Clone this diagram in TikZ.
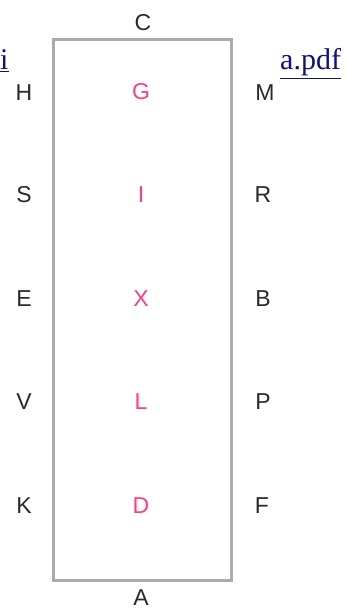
\documentclass[tikz,border=0pt]{standalone}
\usepackage{fontspec}
\setmainfont{Liberation Sans}
\newfontfamily\linkfont{Liberation Serif}
\usepackage{tikz}

\definecolor{markpink}{HTML}{FF3D85}
\definecolor{markgray}{HTML}{2A2A2A}
\definecolor{framegray}{HTML}{ABABAB}
\definecolor{linkblue}{HTML}{10107F}

\tikzset{
  side/.style={text=markgray, inner sep=0pt, font=\fontsize{23}{23}\selectfont},
  centre/.style={text=markpink, inner sep=0pt, font=\fontsize{23}{23}\selectfont},
  link/.style={text=linkblue, inner sep=0pt, font=\linkfont\fontsize{30}{30}\selectfont}
}

\begin{document}
\begin{tikzpicture}[x=1pt,y=-1pt]
                        \useasboundingbox[fill=white] (0,0) rectangle (347,612);

                        % Frame
                        \draw[framegray, line width=3pt] (53,40) rectangle (231,580);

                        % Nodes
                        \node[side] (C) at (143,23) {C};
                        \node[side] (A) at (141,598) {A};

                        \node[side] (H) at (24,93) {H};
                        \node[side] (S) at (24,195) {S};
                        \node[side] (E) at (24,299) {E};
                        \node[side] (V) at (24,402) {V};
                        \node[side] (K) at (24,506) {K};

                        \node[centre] (G) at (141,92) {G};
                        \node[centre] (I) at (141,195) {I};
                        \node[centre] (X) at (141,299) {X};
                        \node[centre] (L) at (141,402) {L};
                        \node[centre] (D) at (141,506) {D};

                        \node[side] (M) at (265,93) {M};
                        \node[side] (R) at (263,195) {R};
                        \node[side] (B) at (263,299) {B};
                        \node[side] (P) at (263,402) {P};
                        \node[side] (F) at (262,506) {F};

                        % Links
                        \node[link, anchor=base west] (linki) at (0,70) {\underline{i}};
                        \node[link, anchor=base west] (linkpdf) at (280,70) {\underline{a.pdf}};
                    \end{tikzpicture}
\end{document}
